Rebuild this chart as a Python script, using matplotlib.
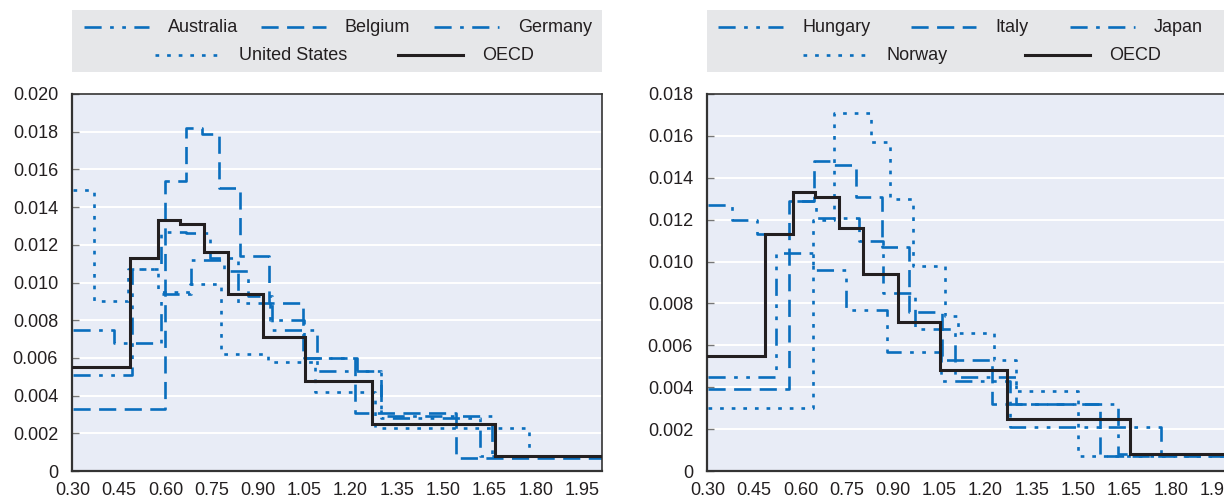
import matplotlib.pyplot as plt
from matplotlib.patches import Rectangle
from matplotlib.lines import Line2D

plt.rcParams['font.family'] = ['Liberation Sans', 'DejaVu Sans']

# step breakpoints (x) and level of each step (y)
oecd_x = [0.30, 0.485, 0.576, 0.647, 0.725, 0.803, 0.916, 1.052, 1.268, 1.667, 2.05]
oecd_y = [0.0055, 0.0113, 0.0133, 0.0131, 0.0116, 0.0094, 0.0071, 0.0048, 0.0025, 0.0008]

australia_x = [0.30, 0.493, 0.587, 0.666, 0.745, 0.835, 0.94, 1.05, 1.22, 1.30, 1.62, 2.05]
australia_y = [0.0051, 0.0107, 0.0127, 0.0126, 0.0113, 0.0089, 0.0080, 0.0060, 0.0053, 0.0028, 0.0008]

belgium_x = [0.30, 0.600, 0.665, 0.72, 0.774, 0.841, 0.936, 1.046, 1.213, 1.541, 2.05]
belgium_y = [0.0033, 0.0154, 0.0182, 0.0179, 0.0150, 0.0114, 0.0089, 0.0060, 0.0031, 0.0007]

germany_x = [0.30, 0.433, 0.587, 0.684, 0.79, 0.868, 0.945, 1.09, 1.30, 1.66, 2.05]
germany_y = [0.0075, 0.0068, 0.0094, 0.0112, 0.0106, 0.0093, 0.0075, 0.0053, 0.0029, 0.0008]

us_x = [0.30, 0.367, 0.478, 0.575, 0.68, 0.779, 0.933, 1.084, 1.28, 1.778, 2.05]
us_y = [0.0149, 0.0090, 0.0107, 0.0095, 0.0099, 0.0062, 0.0058, 0.0042, 0.0023, 0.0008]

hungary_x = [0.30, 0.52, 0.64, 0.747, 0.882, 1.055, 1.28, 1.77, 2.05]
hungary_y = [0.0045, 0.0104, 0.0096, 0.0077, 0.0057, 0.0043, 0.0021, 0.0008]

italy_x = [0.30, 0.563, 0.645, 0.71, 0.78, 0.864, 0.951, 1.06, 1.22, 1.57, 2.05]
italy_y = [0.0039, 0.0129, 0.0148, 0.0146, 0.0131, 0.0107, 0.0076, 0.0053, 0.0032, 0.0007]

japan_x = [0.30, 0.379, 0.46, 0.575, 0.65, 0.79, 0.866, 0.97, 1.10, 1.30, 1.63, 2.05]
japan_y = [0.0127, 0.0120, 0.0113, 0.0129, 0.0121, 0.0110, 0.0085, 0.0068, 0.0045, 0.0032, 0.0008]

norway_x = [0.30, 0.639, 0.708, 0.828, 0.89, 0.966, 1.07, 1.11, 1.227, 1.30, 1.50, 2.05]
norway_y = [0.0030, 0.0120, 0.0171, 0.0157, 0.0130, 0.0098, 0.0074, 0.0066, 0.0053, 0.0038, 0.0007]

x_ticks = [0.30, 0.45, 0.60, 0.75, 0.90, 1.05, 1.20, 1.35, 1.50, 1.65, 1.80, 1.95]
left_yticks = [0, 0.002, 0.004, 0.006, 0.008, 0.010, 0.012, 0.014, 0.016, 0.018, 0.020]
right_yticks = [0, 0.002, 0.004, 0.006, 0.008, 0.010, 0.012, 0.014, 0.016, 0.018]

BLUE = '#0a6ebd'
BLACK = '#231f20'
FS = 13
styles = {
    'dashdotdot': (0, (6.5, 3.2, 1.4, 3.2, 1.4, 3.2)),
    'dashed': (0, (6.5, 3.2)),
    'dashdot': (0, (6.5, 3.2, 1.4, 3.2)),
    'dotted': (0, (1.4, 3.0)),
    'solid': '-',
}

W, H = 1224, 498


def draw_step(ax, xs, ys, ls, color=BLUE, lw=1.9, z=2):
    ax.plot(xs, list(ys) + [ys[-1]], drawstyle='steps-post', color=color,
            lw=lw, linestyle=ls, zorder=z, solid_joinstyle='miter')


def style_axes(ax, yticks, ymax):
    ax.set_facecolor('#e8ecf6')
    ax.set_xlim(0.297, 2.015)
    ax.set_ylim(0, ymax)
    ax.set_yticks(yticks)
    ax.set_yticklabels(['0' if v == 0 else '%.3f' % v for v in yticks])
    ax.set_xticks(x_ticks)
    ax.set_xticklabels(['%.2f' % v for v in x_ticks])
    ax.grid(axis='y', color='white', lw=1.4, zorder=1)
    ax.set_axisbelow(True)
    ax.tick_params(axis='y', direction='in', length=5, width=1, color='#777777',
                   labelsize=FS, pad=10, labelcolor='#231f20')
    ax.tick_params(axis='x', length=0, labelsize=FS, pad=8, labelcolor='#231f20')
    for s in ax.spines.values():
        s.set_color('#333333')
        s.set_linewidth(1.2)
    ax.spines['left'].set_linewidth(1.6)
    ax.spines['bottom'].set_linewidth(1.6)


def add_legend(fig, x0, width, entries):
    # entries: (label, style, colour, linewidth, handle left in px, row)
    fig.patches.append(Rectangle((x0 / W, 1 - 72 / H), width / W, 62 / H,
                                 transform=fig.transFigure, facecolor='#e6e7e9',
                                 edgecolor='none', zorder=0))
    for label, ls, color, lw, hx, row in entries:
        y = 1 - (27 if row == 0 else 55) / H
        fig.add_artist(Line2D([hx / W, (hx + 65) / W], [y, y], transform=fig.transFigure,
                              color=color, lw=lw, linestyle=styles[ls]))
        fig.text((hx + 84) / W, y, label, fontsize=FS, va='center', ha='left',
                 color='#231f20')


fig = plt.figure(figsize=(W / 100, H / 100), dpi=100)
ax1 = fig.add_axes([72 / W, 27 / H, 530 / W, 377 / H])
ax2 = fig.add_axes([707 / W, 27 / H, 530 / W, 377 / H])

draw_step(ax1, australia_x, australia_y, styles['dashdotdot'])
draw_step(ax1, belgium_x, belgium_y, styles['dashed'])
draw_step(ax1, germany_x, germany_y, styles['dashdot'])
draw_step(ax1, us_x, us_y, styles['dotted'])
draw_step(ax1, oecd_x, oecd_y, '-', color=BLACK, lw=2.2, z=3)
style_axes(ax1, left_yticks, 0.020)

draw_step(ax2, hungary_x, hungary_y, styles['dashdotdot'])
draw_step(ax2, italy_x, italy_y, styles['dashed'])
draw_step(ax2, japan_x, japan_y, styles['dashdot'])
draw_step(ax2, norway_x, norway_y, styles['dotted'])
draw_step(ax2, oecd_x, oecd_y, '-', color=BLACK, lw=2.2, z=3)
style_axes(ax2, right_yticks, 0.018)

add_legend(fig, 72, 530, [
    ('Australia', 'dashdotdot', BLUE, 1.9, 84, 0),
    ('Belgium', 'dashed', BLUE, 1.9, 261, 0),
    ('Germany', 'dashdot', BLUE, 1.9, 434, 0),
    ('United States', 'dotted', BLUE, 1.9, 155, 1),
    ('OECD', 'solid', BLACK, 2.2, 398, 1),
])
add_legend(fig, 707, 530, [
    ('Hungary', 'dashdotdot', BLUE, 1.9, 718, 0),
    ('Italy', 'dashed', BLUE, 1.9, 911, 0),
    ('Japan', 'dashdot', BLUE, 1.9, 1070, 0),
    ('Norway', 'dotted', BLUE, 1.9, 803, 1),
    ('OECD', 'solid', BLACK, 2.2, 1025, 1),
])

fig.savefig('out.png', dpi=100)
